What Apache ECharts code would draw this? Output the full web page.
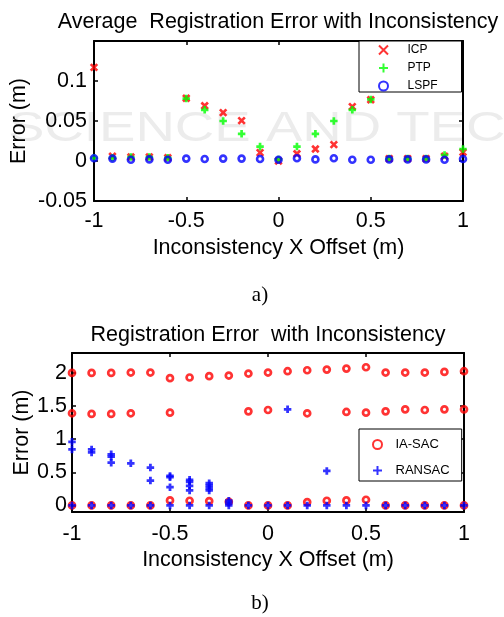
<!DOCTYPE html>
<html>
<head>
<meta charset="utf-8">
<script src="https://cdn.jsdelivr.net/npm/echarts@6/dist/echarts.min.js"></script>
<style>
html,body{margin:0;padding:0;background:#fff;}
#chart{width:504px;height:617px;}
</style>
</head>
<body>
<div id="chart"></div>
<script>
// ---------- data ----------
const xOffsets = [-1,-0.9,-0.8,-0.7,-0.6,-0.5,-0.4,-0.3,-0.2,-0.1,0,0.1,0.2,0.3,0.4,0.5,0.6,0.7,0.8,0.9,1];
const xTickLabels = ['-1','-0.5','0','0.5','1'];

// (a) Average registration error
const icp  = [0.117,0.006,0.005,0.005,0.004,0.0785,0.069,0.0605,0.0505,0.0105,0.000,0.009,0.015,0.0205,0.068,0.0765,0.003,0.003,0.003,0.006,0.011];
const ptp  = [0.004,0.004,0.005,0.005,0.004,0.078,0.064,0.050,0.034,0.018,0.002,0.018,0.034,0.050,0.064,0.077,0.003,0.003,0.003,0.0075,0.015];
const lspf = [0.0035,0.003,0.0015,0.002,0.0015,0.003,0.0025,0.003,0.003,0.0025,0.0015,0.0035,0.002,0.0035,0.0015,0.0015,0.002,0.002,0.002,0.0015,0.0025];

// (b) Registration error (several trials per offset)
const iasacHigh = [2.0,2.0,2.0,2.005,2.005,1.92,1.93,1.95,1.96,1.99,2.005,2.025,2.04,2.05,2.065,2.085,2.005,2.005,2.005,2.015,2.025];
const iasacMid  = [1.39,1.38,1.38,1.39,null,1.40,null,null,null,1.42,1.44,null,1.39,null,1.41,1.40,1.42,1.45,1.44,1.45,1.45];
const iasacLow  = [0,0,0,0,0,0.075,0.07,0.065,0.055,0,0,0,0.05,0.07,0.075,0.085,0,0,0,0,0];
const ransacTrials = [
  [0.96,0.845,0],[0.845,0.80,0],[0.77,0.735,0.645,0],[0.635,0],[0.57,0.375,0],
  [0.445,0.425,0.275,0],[0.385,0.355,0.295,0.225,0],[0.335,0.30,0.26,0.225,0],[0.07,0.035,0],[0],
  [0],[1.45,0],[0],[0.52,0],[0],[0],[0],[0],[0],[0],[0]
];

// ---------- build ----------
const pairs = (ys) => xOffsets.map((x,i)=>[x, ys[i]]).filter(p=>p[1]!==null);
const iasacPts = [].concat(pairs(iasacHigh), pairs(iasacMid), pairs(iasacLow));
const ransacPts = [];
ransacTrials.forEach((vals,i)=>vals.forEach(v=>ransacPts.push([xOffsets[i], v])));

const FONT = 'Liberation Sans';
const FS = 21.5;
const X_PATH = 'path://M0,0L10,10M10,0L0,10';
const PLUS_PATH = 'path://M5,0L5,10M0,5L10,5';

function xBottom(gi, gap, margin){
  return {gridIndex:gi, type:'value', min:-1, max:1, interval:0.5, position:'bottom',
    name:'Inconsistency X Offset (m)', nameLocation:'middle', nameGap:gap,
    nameTextStyle:{fontFamily:FONT,fontSize:FS,color:'#000'},
    axisLine:{show:true,onZero:false,lineStyle:{color:'#000',width:2}},
    axisTick:{show:true,inside:true,length:4,lineStyle:{color:'#000',width:1.5}},
    axisLabel:{fontFamily:FONT,fontSize:FS,color:'#000',margin:margin,
      formatter:(v)=>{const i=[-1,-0.5,0,0.5,1].indexOf(v);return i>=0?xTickLabels[i]:'';}},
    splitLine:{show:false}};
}
function xTop(gi){
  return {gridIndex:gi, type:'value', min:-1, max:1, interval:0.5, position:'top',
    axisLine:{show:true,onZero:false,lineStyle:{color:'#000',width:2}},
    axisTick:{show:true,inside:true,length:4,lineStyle:{color:'#000',width:1.5}},
    axisLabel:{show:false}, splitLine:{show:false}};
}
const bTicks = [0,0.5,1,1.5,2];

const option = {
  backgroundColor:'#fff',
  animation:false,
  title:[
    {text:'Average  Registration Error with Inconsistency', left:273, top:6, textAlign:'center',
      textStyle:{fontFamily:FONT,fontSize:FS,fontWeight:'normal',color:'#000'}},
    {text:'Registration Error  with Inconsistency', left:263, top:319, textAlign:'center',
      textStyle:{fontFamily:FONT,fontSize:FS,fontWeight:'normal',color:'#000'}},
    {text:'a)', left:255, top:280, textAlign:'center',
      textStyle:{fontFamily:'Liberation Serif',fontSize:21,fontWeight:'normal',color:'#000'}},
    {text:'b)', left:255, top:588, textAlign:'center',
      textStyle:{fontFamily:'Liberation Serif',fontSize:21,fontWeight:'normal',color:'#000'}}
  ],
  graphic:[
    {type:'text', left:8, top:108, z:-10, silent:true, scaleX:1.3,
      style:{text:'SCIENCE AND TECHNOLOGY', font:'42px "Liberation Sans"', fill:'#ececec'}}
  ],
  grid:[
    {left:94, top:41, width:369, height:160, containLabel:false, outerBoundsMode:'none'},
    {left:72, top:353, width:392, height:159, containLabel:false, outerBoundsMode:'none'}
  ],
  legend:[
    {orient:'vertical', left:359, top:41, padding:[3,24,0,19], itemGap:6,
      itemWidth:38, itemHeight:9, backgroundColor:'#fff', borderColor:'#000', borderWidth:1,
      textStyle:{fontFamily:FONT,fontSize:12,color:'#000'},
      data:['ICP','PTP','LSPF']},
    {orient:'vertical', left:359, top:429, padding:[9,12,4,13], itemGap:13,
      itemWidth:26, itemHeight:9, backgroundColor:'#fff', borderColor:'#000', borderWidth:1,
      textStyle:{fontFamily:FONT,fontSize:13,color:'#000'},
      data:['IA-SAC','RANSAC']}
  ],
  xAxis:[ xBottom(0,36,9), xTop(0), xBottom(1,37,11), xTop(1) ],
  yAxis:[
    {gridIndex:0, type:'value', min:-0.05, max:0.15, interval:0.05, position:'left',
      name:'Error (m)', nameLocation:'middle', nameGap:64, nameMoveOverlap:false,
      nameTextStyle:{fontFamily:FONT,fontSize:FS,color:'#000'},
      axisLine:{show:true,onZero:false,lineStyle:{color:'#000',width:2}},
      axisTick:{show:true,inside:true,length:4,lineStyle:{color:'#000',width:1.5}},
      axisLabel:{fontFamily:FONT,fontSize:FS,color:'#000',margin:7,
        formatter:(v)=> Math.abs(v-0.15)<1e-9 ? '' : String(+v.toFixed(2))},
      splitLine:{show:false}},
    {gridIndex:0, type:'value', min:-0.05, max:0.15, interval:0.05, position:'right',
      axisLine:{show:true,onZero:false,lineStyle:{color:'#000',width:2}},
      axisTick:{show:true,inside:true,length:4,lineStyle:{color:'#000',width:1.5}},
      axisLabel:{show:false}, splitLine:{show:false}},
    {gridIndex:1, type:'value', min:-0.1, max:2.3, position:'left',
      name:'Error (m)', nameLocation:'middle', nameGap:39, nameMoveOverlap:false,
      nameTextStyle:{fontFamily:FONT,fontSize:FS,color:'#000'},
      axisLine:{show:true,onZero:false,lineStyle:{color:'#000',width:2}},
      axisTick:{show:true,inside:true,length:4,lineStyle:{color:'#000',width:1.5},customValues:bTicks},
      axisLabel:{fontFamily:FONT,fontSize:FS,color:'#000',margin:5,customValues:bTicks},
      splitLine:{show:false}},
    {gridIndex:1, type:'value', min:-0.1, max:2.3, position:'right',
      axisLine:{show:true,onZero:false,lineStyle:{color:'#000',width:2}},
      axisTick:{show:true,inside:true,length:4,lineStyle:{color:'#000',width:1.5},customValues:bTicks},
      axisLabel:{show:false}, splitLine:{show:false}}
  ],
  series:[
    {name:'ICP', type:'scatter', xAxisIndex:0, yAxisIndex:0, data:pairs(icp),
      symbol:X_PATH, symbolSize:6.5, itemStyle:{color:'rgba(0,0,0,0)',borderColor:'#ff0000',borderWidth:2.7}},
    {name:'PTP', type:'scatter', xAxisIndex:0, yAxisIndex:0, data:pairs(ptp),
      symbol:PLUS_PATH, symbolSize:7.5, itemStyle:{color:'rgba(0,0,0,0)',borderColor:'#00ff00',borderWidth:2.7}},
    {name:'LSPF', type:'scatter', xAxisIndex:0, yAxisIndex:0, data:pairs(lspf),
      symbol:'circle', symbolSize:6, itemStyle:{color:'rgba(0,0,0,0)',borderColor:'#0000ff',borderWidth:2.6}},
    {name:'IA-SAC', type:'scatter', xAxisIndex:2, yAxisIndex:2, data:iasacPts,
      symbol:'circle', symbolSize:6, itemStyle:{color:'rgba(0,0,0,0)',borderColor:'#ff0000',borderWidth:2.7}},
    {name:'RANSAC', type:'scatter', xAxisIndex:2, yAxisIndex:2, data:ransacPts,
      symbol:PLUS_PATH, symbolSize:7.5, itemStyle:{color:'rgba(0,0,0,0)',borderColor:'#0000ff',borderWidth:2.8}}
  ]
};

const chart = echarts.init(document.getElementById('chart'), null, {renderer:'canvas'});
chart.setOption(option);
</script>
</body>
</html>
